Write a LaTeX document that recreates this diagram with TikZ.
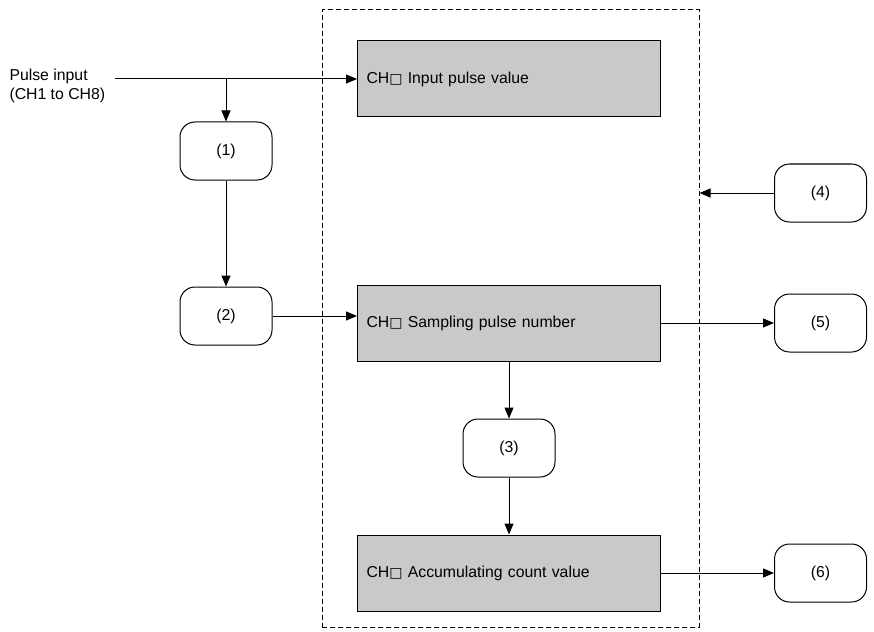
\documentclass[tikz,border=0pt]{standalone}
\usepackage{fontspec}
\setmainfont{Liberation Sans}
\newfontfamily\symfont{DejaVu Sans}
\usepackage{xcolor}
\usepackage{tikz}
\usetikzlibrary{arrows.meta, positioning}
\definecolor{boxgray}{RGB}{200,201,203}
\newcommand{\chbox}{CH{\symfont\fontsize{14}{14}\selectfont\char"25A1}}

\begin{document}
\begin{tikzpicture}[x=1pt, y=-1pt, line width=1pt,
    >={Triangle[length=11pt,width=9pt]},
    font=\fontsize{15.8}{18.5}\selectfont,
    valbox/.style={draw, rectangle, fill=boxgray, text width=285pt, inner xsep=9pt, minimum height=76pt, align=left},
    tagbox/.style={draw, rectangle, rounded corners=15pt, minimum width=92pt, minimum height=58pt}]
    \useasboundingbox (0,0) rectangle (874,631);

    % Frame
    \node[draw, dashed, dash pattern=on 5pt off 3pt, rectangle, minimum width=377pt, minimum height=617pt, inner sep=0pt] (frame) at (510.5,318.5) {};

    % Values
    \node[valbox] (inp) at (509,79) {\chbox\ Input pulse value};
    \node[valbox, below=167pt of inp] (samp) {\chbox\ Sampling pulse number};
    \node[tagbox, below=57pt of samp] (r3) {(3)};
    \node[valbox, below=57pt of r3] (acc) {\chbox\ Accumulating count value};

    % Steps
    \node[tagbox] (r1) at (226,151) {(1)};
    \node[tagbox, below=106pt of r1] (r2) {(2)};
    \node[tagbox, right=113pt of samp] (r5) {(5)};
    \node[tagbox, above=71pt of r5] (r4) {(4)};
    \node[tagbox, right=113pt of acc] (r6) {(6)};

    % Input
    \node[anchor=west, align=left, inner sep=0pt] (pulse) at (9,86) {Pulse input\\(CH1 to CH8)};
    \coordinate (pstart) at (115,79);

    % Flow arrows
    \draw[->] (pstart) -- (inp.west);
    \draw[->] (r1 |- pstart) -- (r1.north);
    \draw[->] (r1.south) -- (r2.north);
    \draw[->] (r2.east) -- (r2 -| samp.west);
    \draw[->] (samp.south) -- (r3.north);
    \draw[->] (r3.south) -- (acc.north);
    \draw[->] (samp.east) -- (r5.west);
    \draw[->] (acc.east) -- (r6.west);
    \draw[->] (r4.west) -- (r4 -| frame.east);
\end{tikzpicture}
\end{document}
